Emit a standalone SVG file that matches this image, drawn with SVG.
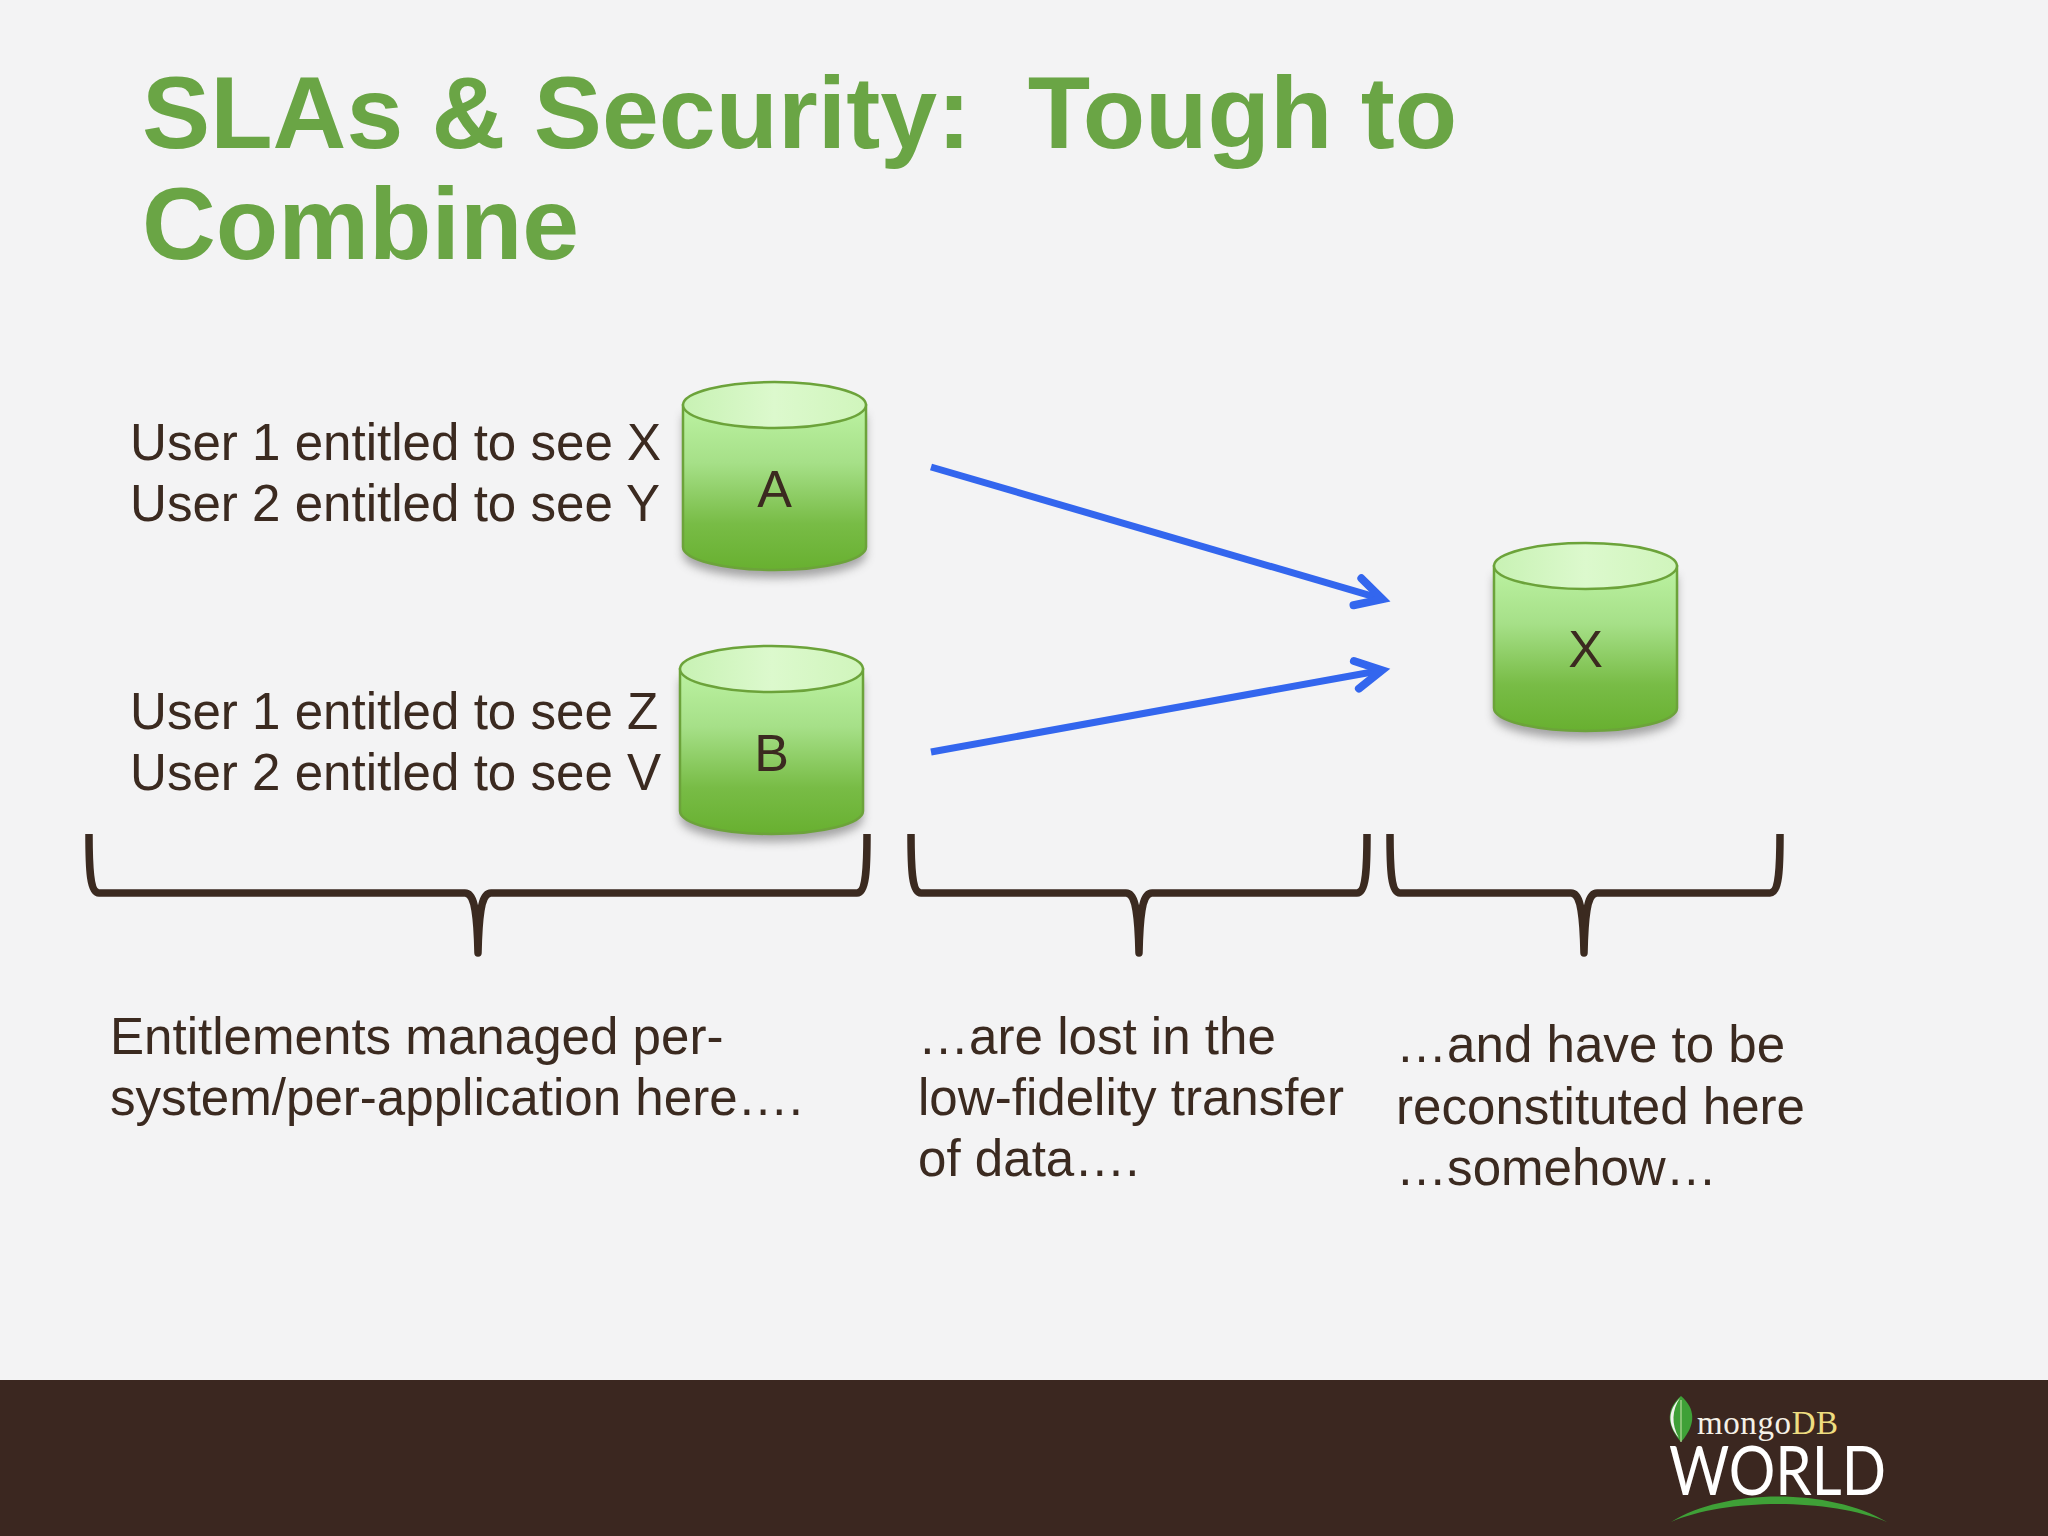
<svg xmlns="http://www.w3.org/2000/svg" width="2048" height="1536" viewBox="0 0 2048 1536">
<style>
.title{font:bold 102.2px "Liberation Sans",Arial,sans-serif;fill:#6aa545}
.body{font:51.1px "Liberation Sans",Arial,sans-serif;fill:#3b2a20}
.lbl{font:52px "Liberation Sans",Arial,sans-serif;fill:#3b2a20;text-anchor:middle}
.cyl{fill:url(#cylGrad);stroke:#6ca33a;stroke-width:2.5}
.top{fill:url(#topGrad);stroke:#6ca33a;stroke-width:2.5}
.shadow{fill:#555;opacity:.5;filter:url(#blur)}
.arrow{fill:none;stroke:#3366ee;stroke-width:7;marker-end:url(#head)}
.brace{fill:none;stroke:#3b2a20;stroke-width:7.5;stroke-linecap:butt;stroke-linejoin:round}
</style>
<defs>
<linearGradient id="cylGrad" x1="0" y1="0" x2="0" y2="1">
<stop offset="0" stop-color="#bcf2a2"/><stop offset=".35" stop-color="#a6e088"/><stop offset=".72" stop-color="#78bc46"/><stop offset="1" stop-color="#68b030"/>
</linearGradient>
<linearGradient id="topGrad" x1="0" y1="0" x2="1" y2="0">
<stop offset="0" stop-color="#c8f2b4"/><stop offset=".5" stop-color="#dcf9cd"/><stop offset="1" stop-color="#d0f5bc"/>
</linearGradient>
<filter id="blur" x="-20%" y="-20%" width="140%" height="140%"><feGaussianBlur stdDeviation="5"/></filter>
<marker id="head" markerUnits="userSpaceOnUse" markerWidth="60" markerHeight="50" refX="54" refY="25" orient="auto" overflow="visible">
<path d="M28,11 L54,25 L28,39" fill="none" stroke="#3366ee" stroke-width="8" stroke-linecap="round" stroke-linejoin="miter"/>
</marker>
<path id="cylBody" d="M683,405 V547 A91.5,23 0 0 0 866,547 V405 Z"/>
</defs>
<rect width="2048" height="1536" fill="#f3f3f4"/>
<rect id="footer" y="1380" width="2048" height="156" fill="#3b2720"/>
<text class="title" x="142" y="148" xml:space="preserve">SLAs &amp; Security:  Tough to</text>
<text class="title" x="142" y="259">Combine</text>

<g id="textA"><text class="body" x="130" y="460">User 1 entitled to see X</text><text class="body" x="130" y="521">User 2 entitled to see Y</text></g>
<g id="textB"><text class="body" x="130" y="729">User 1 entitled to see Z</text><text class="body" x="130" y="790">User 2 entitled to see V</text></g>

<g id="nodeA">
<path class="shadow" d="M683,415 V555 A91.5,23 0 0 0 866,555 V415 Z"/>
<use href="#cylBody" class="cyl"/><ellipse class="top" cx="774.5" cy="405" rx="91.5" ry="23"/>
<text class="lbl" x="774.5" y="507">A</text>
</g>
<g id="nodeB" transform="translate(-3 264)">
<path class="shadow" d="M683,415 V555 A91.5,23 0 0 0 866,555 V415 Z"/>
<use href="#cylBody" class="cyl"/><ellipse class="top" cx="774.5" cy="405" rx="91.5" ry="23"/>
<text class="lbl" x="774.5" y="507">B</text>
</g>
<g id="nodeX" transform="translate(811 161)">
<path class="shadow" d="M683,415 V555 A91.5,23 0 0 0 866,555 V415 Z"/>
<use href="#cylBody" class="cyl"/><ellipse class="top" cx="774.5" cy="405" rx="91.5" ry="23"/>
<text class="lbl" x="774.5" y="506">X</text>
</g>

<g id="connectors">
<path class="arrow" d="M931,467 L1382.4,599.1"/>
<path class="arrow" d="M931,752 L1382,670.2"/>
</g>

<g id="braces">
<path class="brace" d="M89,834 C89,870 90,893 99,893 H465 C473,893 477,905 478,953 C479,905 483,893 491,893 H857 C866,893 867,870 867,834"/>
<path class="brace" d="M911,834 C911,870 912,893 921,893 H1126 C1134,893 1138,905 1139,953 C1140,905 1144,893 1152,893 H1357 C1366,893 1367,870 1367,834"/>
<path class="brace" d="M1390,834 C1390,870 1391,893 1400,893 H1571 C1579,893 1583,905 1584,953 C1585,905 1589,893 1597,893 H1770 C1779,893 1780,870 1780,834"/>
</g>

<g id="captions">
<text class="body" x="110" y="1054">Entitlements managed per-</text>
<text class="body" x="110" y="1115">system/per-application here….</text>
<text class="body" x="918" y="1054">…are lost in the</text>
<text class="body" x="918" y="1115">low-fidelity transfer</text>
<text class="body" x="918" y="1176">of data….</text>
<text class="body" x="1396" y="1062">…and have to be</text>
<text class="body" x="1396" y="1124">reconstituted here</text>
<text class="body" x="1396" y="1185">…somehow…</text>
</g>

<g id="logo">
<path d="M1681,1396 C1667,1408 1665,1424 1681,1442 C1697,1424 1695,1408 1681,1396 Z" fill="#3fa037"/>
<path d="M1680,1398 C1668,1410 1667,1424 1679,1438 C1671,1424 1672,1410 1680,1398 Z" fill="#f2f2ee"/>
<path d="M1681,1400 V1442" stroke="#cfe6b0" stroke-width="1" fill="none"/>
<text x="1697" y="1434" font-family="Liberation Serif,serif" font-size="33" letter-spacing=".6" fill="#f4f0e6">mongo<tspan fill="#eedd80">DB</tspan></text>
<text x="1669" y="1495" font-family="Lato,sans-serif" font-size="68" fill="#ffffff" textLength="217" lengthAdjust="spacingAndGlyphs">WORLD</text>
<path d="M1671,1522 C1725,1488 1830,1488 1887,1522 C1830,1498 1725,1498 1671,1522 Z" fill="#3fa037"/>
</g>
</svg>
